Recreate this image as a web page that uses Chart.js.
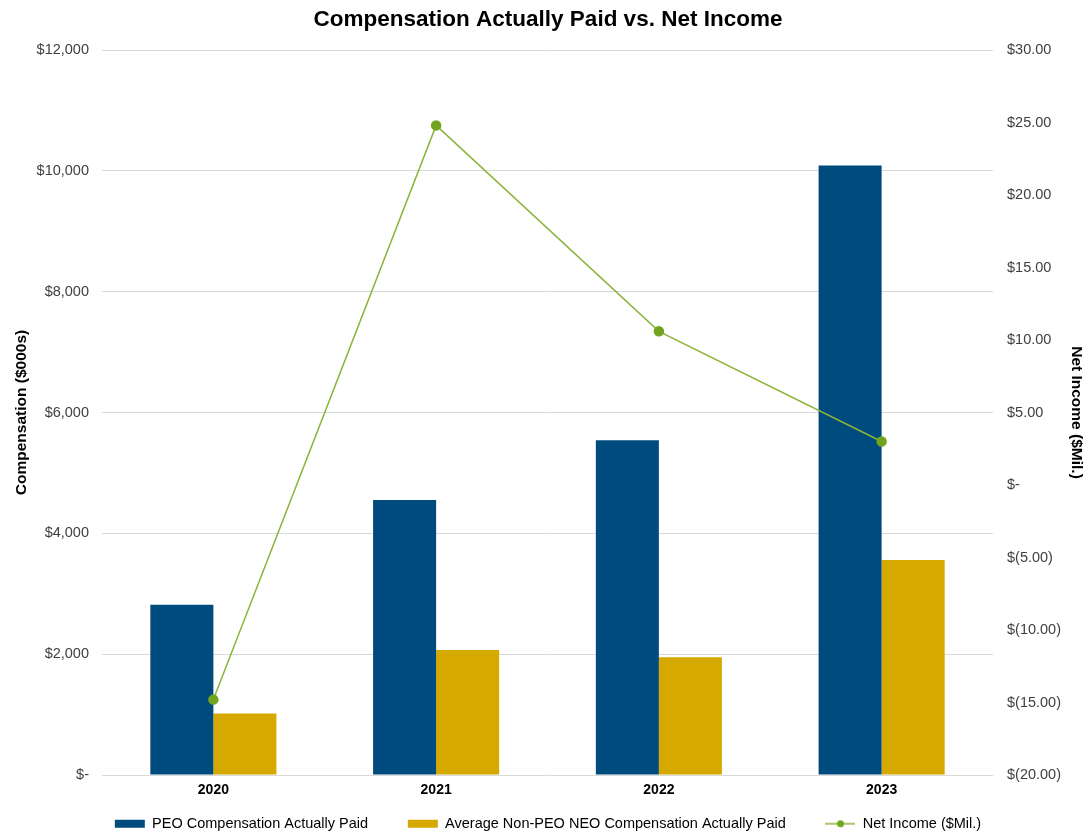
<!DOCTYPE html>
<html>
<head>
<meta charset="utf-8">
<script src="https://cdn.jsdelivr.net/npm/chart.js@4.4.1/dist/chart.umd.min.js"></script>
<style>
  html, body { margin: 0; padding: 0; background: #fff; }
  #wrap { width: 1090px; height: 838px; position: relative; }
</style>
</head>
<body>
<div id="wrap"><canvas id="chart"></canvas></div>
<script>
const years = ['2020', '2021', '2022', '2023'];
const peoPaid = [2820, 4550, 5540, 10090];
const neoPaid = [1020, 2070, 1950, 3560];
const netIncome = [-14.8, 24.8, 10.6, 3.0];

const BLUE = '#004b7d';
const GOLD = '#d5a900';
const LINE = '#8cb43a';
const DOT = '#72a51e';
const TICK = '#404040';
const FAMILY = 'Arial, "Liberation Sans", sans-serif';

// little line+dot icon for the legend
function lineIcon() {
  const c = document.createElement('canvas');
  c.width = 30; c.height = 10;
  const g = c.getContext('2d');
  g.strokeStyle = LINE; g.lineWidth = 1.5;
  g.beginPath(); g.moveTo(0, 5); g.lineTo(30, 5); g.stroke();
  g.fillStyle = DOT;
  g.beginPath(); g.arc(15, 5, 3.5, 0, Math.PI * 2); g.fill();
  return c;
}

function fmtComp(v) {
  if (v === 0) return '$-';
  return '$' + v.toLocaleString('en-US');
}
function fmtNet(v) {
  if (v === 0) return '$-';
  const s = Math.abs(v).toFixed(2);
  return v < 0 ? '$(' + s + ')' : '$' + s;
}

const tickFont = { family: FAMILY, size: 14.5 };
const titleFont = { family: FAMILY, size: 15.5, weight: 'bold' };
const GAP = '\u2002\u2002\u2002';

new Chart(document.getElementById('chart'), {
  data: {
    labels: years,
    datasets: [
      { type: 'line', label: 'Net Income ($Mil.)', data: netIncome, yAxisID: 'y1', borderColor: LINE, borderWidth: 1.5,
        pointBackgroundColor: DOT, pointBorderColor: DOT, pointRadius: 4.5, tension: 0, order: 0 },
      { type: 'bar', label: 'PEO Compensation Actually Paid', data: peoPaid, yAxisID: 'y', backgroundColor: BLUE,
        categoryPercentage: 0.566, barPercentage: 1.0, order: 1 },
      { type: 'bar', label: 'Average Non-PEO NEO Compensation Actually Paid', data: neoPaid, yAxisID: 'y', backgroundColor: GOLD,
        categoryPercentage: 0.566, barPercentage: 1.0, order: 1 },
    ],
  },
  options: {
    responsive: true, maintainAspectRatio: false, animation: false,
    layout: { padding: { left: 8, right: 2, top: 4, bottom: -3 } },
    plugins: {
      title: {
        display: true, text: 'Compensation Actually Paid vs. Net Income', color: '#000',
        font: { family: FAMILY, size: 22.5, weight: 'bold' }, padding: { top: 2.5, bottom: 16.5 },
      },
      legend: {
        position: 'bottom',
        labels: {
          color: '#000', font: { family: FAMILY, size: 14.5 }, usePointStyle: true, pointStyleWidth: 30,
          boxHeight: 8, padding: 18,
          generateLabels: chart => {
            const items = Chart.defaults.plugins.legend.labels.generateLabels(chart);
            items.forEach(it => {
              if (it.datasetIndex === 0) { it.pointStyle = lineIcon(); }
              else { it.pointStyle = 'rect'; it.lineWidth = 0; it.text = it.text + GAP; }
            });
            // bars first, line last
            return [items[1], items[2], items[0]];
          },
        },
      },
      tooltip: { enabled: false },
    },
    scales: {
      x: {
        grid: { display: false, drawTicks: false }, border: { display: false },
        ticks: { color: '#000', font: { family: FAMILY, size: 14, weight: 'bold' }, padding: 7 },
        afterFit: s => { s.height = 23.5; },
      },
      y: {
        position: 'left', min: 0, max: 12000,
        ticks: { stepSize: 2000, color: TICK, font: tickFont, padding: 13, callback: v => fmtComp(v) },
        grid: { color: '#d9d9d9', drawTicks: false }, border: { display: false },
        title: { display: true, text: 'Compensation ($000s)', color: '#000', font: titleFont, padding: 4.5 },
        afterFit: s => { s.width = 94; },
      },
      y1: {
        position: 'right', min: -20, max: 30,
        ticks: { stepSize: 5, color: TICK, font: tickFont, padding: 14, callback: v => fmtNet(v) },
        grid: { display: false, drawTicks: false }, border: { display: false },
        title: { display: true, text: 'Net Income ($Mil.)', color: '#000', font: titleFont, padding: 2 },
        afterFit: s => { s.width = 95; },
      },
    },
  },
});
</script>
</body>
</html>
